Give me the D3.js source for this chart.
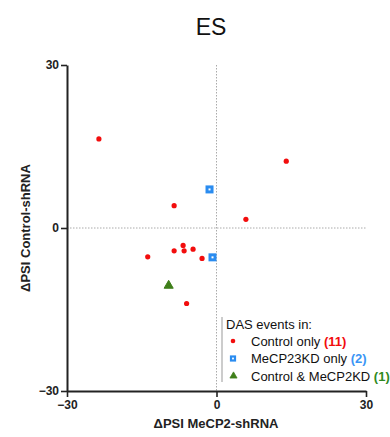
<!DOCTYPE html>
<html>
<head>
<meta charset="utf-8">
<script src="https://cdn.jsdelivr.net/npm/d3@7"></script>
<style>
  html, body { margin: 0; padding: 0; background: #fff; }
  text { font-family: "Liberation Sans", Arial, sans-serif; }
</style>
</head>
<body>
<div id="chart"></div>
<script>
// ES — dPSI scatter

const xTicks = [-30, 0, 30];
const yTicks = [-30, 0, 30];

// Control only (red)
const controlX = [-23.6, 14.0, -8.5, 5.9, -6.7, -13.8, -8.5, -6.5, -4.7, -2.9, -6.0];
const controlY = [16.4, 12.3, 4.1, 1.6, -3.2, -5.3, -4.2, -4.2, -3.9, -5.6, -13.9];
// MeCP23KD only (blue)
const kdX = [-1.4, -0.8];
const kdY = [7.1, -5.4];
// Control & MeCP2KD (green)
const bothX = [-9.6];
const bothY = [-10.6];

const legendLabels = ['Control only', 'MeCP23KD only', 'Control & MeCP2KD'];
const legendCounts = ['(11)', '(2)', '(1)'];

const width = 390, height = 437;
const red = '#f20d0d', blue = '#2a8cf0', green = '#3f7f1a';

const svg = d3.select('#chart').append('svg')
  .attr('width', width).attr('height', height);

const x = d3.scaleLinear().domain([-30, 30]).range([67, 366]);
const y = d3.scaleLinear().domain([-30, 30]).range([391, 65]);

// title
svg.append('text').attr('x', 211).attr('y', 35)
  .attr('text-anchor', 'middle').attr('font-size', 23).attr('fill', '#111')
  .text('ES');

// zero lines
svg.append('line')
  .attr('x1', x(0)).attr('x2', x(0)).attr('y1', y(30)).attr('y2', y(-30))
  .attr('stroke', '#aaa').attr('stroke-width', 1).attr('stroke-dasharray', '1.5,1.5');
svg.append('line')
  .attr('x1', x(-30)).attr('x2', x(30)).attr('y1', y(0)).attr('y2', y(0))
  .attr('stroke', '#aaa').attr('stroke-width', 1).attr('stroke-dasharray', '1.5,1.5');

// axes
const xAxis = svg.append('g').attr('transform', `translate(0,${y(-30)})`)
  .call(d3.axisBottom(x).tickValues(xTicks).tickSize(6).tickPadding(3).tickSizeOuter(0));
const yAxis = svg.append('g').attr('transform', `translate(${x(-30)},0)`)
  .call(d3.axisLeft(y).tickValues(yTicks).tickSize(6).tickPadding(2).tickSizeOuter(0));
[xAxis, yAxis].forEach(g => {
  g.select('.domain').attr('stroke', '#222').attr('stroke-width', 2);
  g.selectAll('.tick line').attr('stroke', '#222').attr('stroke-width', 1.6);
  g.selectAll('.tick text').attr('font-size', 12).attr('font-weight', 'bold').attr('fill', '#222')
    .attr('font-family', '"Liberation Sans", Arial, sans-serif');
});

// axis titles
svg.append('text').attr('x', 216).attr('y', 428)
  .attr('text-anchor', 'middle').attr('font-size', 13).attr('font-weight', 'bold').attr('fill', '#222')
  .text('\u0394PSI MeCP2-shRNA');
svg.append('text').attr('transform', 'translate(30,228) rotate(-90)')
  .attr('text-anchor', 'middle').attr('font-size', 13).attr('font-weight', 'bold').attr('fill', '#222')
  .text('\u0394PSI Control-shRNA');

// points
const pts = svg.append('g');
pts.selectAll('circle.ctrl')
  .data(d3.zip(controlX, controlY))
  .join('circle').attr('class', 'ctrl')
  .attr('cx', d => x(d[0])).attr('cy', d => y(d[1]))
  .attr('r', 2.6).attr('fill', red);

pts.selectAll('rect.kd')
  .data(d3.zip(kdX, kdY))
  .join('rect').attr('class', 'kd')
  .attr('x', d => x(d[0]) - 2.5).attr('y', d => y(d[1]) - 2.5)
  .attr('width', 5).attr('height', 5)
  .attr('fill', '#fff').attr('stroke', blue).attr('stroke-width', 3);

const tri = d3.symbol().type(d3.symbolTriangle).size(36);
pts.selectAll('path.both')
  .data(d3.zip(bothX, bothY))
  .join('path').attr('class', 'both')
  .attr('transform', d => `translate(${x(d[0])},${y(d[1])})`)
  .attr('d', tri).attr('fill', green)
  .attr('stroke', green).attr('stroke-width', 1).attr('stroke-linejoin', 'round');

// legend
const lg = svg.append('g');
lg.append('line').attr('x1', 222).attr('x2', 222).attr('y1', 317).attr('y2', 382)
  .attr('stroke', '#aaa').attr('stroke-width', 1.2);
lg.append('text').attr('x', 226).attr('y', 329).attr('font-size', 13).attr('fill', '#111')
  .text('DAS events in:');

const rowY = [341, 358.5, 376];
const countColors = [red, '#3a95f5', '#2f8a1e'];
legendLabels.forEach((lab, i) => {
  const t = lg.append('text').attr('x', 251).attr('y', rowY[i] + 4.5)
    .attr('font-size', 13).attr('fill', '#111');
  t.append('tspan').text(lab + ' ');
  t.append('tspan').attr('fill', countColors[i]).attr('font-weight', 'bold').text(legendCounts[i]);
});
lg.append('circle').attr('cx', 233).attr('cy', rowY[0]).attr('r', 2.3).attr('fill', red);
lg.append('rect').attr('x', 231).attr('y', rowY[1] - 2).attr('width', 4).attr('height', 4)
  .attr('fill', '#fff').attr('stroke', blue).attr('stroke-width', 2.2);
lg.append('path').attr('transform', `translate(233.5,${rowY[2]})`)
  .attr('d', d3.symbol().type(d3.symbolTriangle).size(22)).attr('fill', green)
  .attr('stroke', green).attr('stroke-width', 0.8).attr('stroke-linejoin', 'round');
</script>
</body>
</html>
